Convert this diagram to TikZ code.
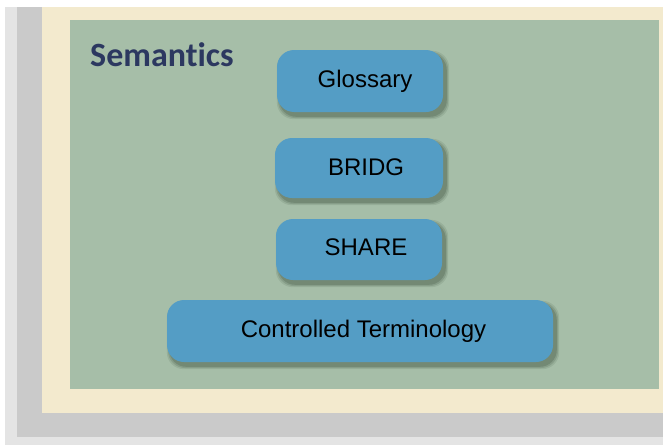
\documentclass[tikz,border=0pt]{standalone}
\usepackage{fontspec}
\setmainfont{Liberation Sans}
\newfontfamily\titlefont[Ligatures=NoCommon]{Carlito}
\definecolor{framelight}{RGB}{228,228,228}
\definecolor{framegray}{RGB}{202,202,202}
\definecolor{cream}{RGB}{243,234,206}
\definecolor{panelgreen}{RGB}{166,190,168}
\definecolor{boxblue}{RGB}{84,157,197}
\definecolor{shadowc}{RGB}{55,75,55}
\definecolor{titleblue}{RGB}{44,56,96}
\pgfdeclarelayer{back}
\pgfdeclarelayer{bg}
\pgfsetlayers{back,bg,main}
\tikzset{
  blk/.style={rounded corners=17pt, fill=boxblue, inner sep=0pt},
  lbl/.style={anchor=base, inner sep=0pt, text=black, font=\fontsize{24}{26}\selectfont},
}
\newcommand{\boxshadow}[1]{%
  \foreach \e/\o in {3/0.12,1.8/0.18,0.6/0.24}{%
    \fill[shadowc, opacity=\o, rounded corners=17pt]
      ([shift={(3-\e,4-\e)}]#1.north west) rectangle ([shift={(3+\e,4+\e)}]#1.south east);
  }%
}
\begin{document}
\begin{tikzpicture}[x=1pt,y=-1pt]
\useasboundingbox (0,0) rectangle (663,447);
\begin{pgfonlayer}{back}
\fill[white] (0,0) rectangle (663,447);
\fill[framelight] (5,7) rectangle (663,445);
\fill[framegray] (17,7) rectangle (663,437);
\fill[cream] (42,7) rectangle (663,413);
\fill[panelgreen] (70,20) rectangle (659,389);
\end{pgfonlayer}

\node[anchor=base west, inner sep=0pt, text=titleblue,
      font=\titlefont\bfseries\fontsize{34}{34}\selectfont] (sem) at (90,66) {Semantics};

\node[blk, minimum width=166pt, minimum height=62pt] (g) at (360,81) {};
\node[blk, minimum width=168pt, minimum height=60pt] (b) at (359,168) {};
\node[blk, minimum width=166pt, minimum height=61pt] (s) at (359,249.5) {};
\node[blk, minimum width=386pt, minimum height=62pt] (c) at (360,331) {};

\begin{pgfonlayer}{bg}
\boxshadow{g}\boxshadow{b}\boxshadow{s}\boxshadow{c}
\end{pgfonlayer}

\node[lbl] (gt) at (365,87) {Glossary};
\node[lbl] (bt) at (366,175) {BRIDG};
\node[lbl] (st) at (366,255) {SHARE};
\node[lbl] (ct) at (363.5,337) {Controlled Terminology};
\end{tikzpicture}
\end{document}
